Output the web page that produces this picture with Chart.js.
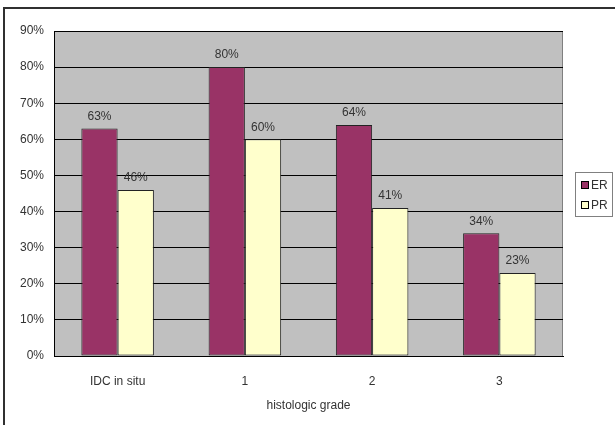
<!DOCTYPE html>
<html>
<head>
<meta charset="utf-8">
<script src="https://cdn.jsdelivr.net/npm/chart.js@4/dist/chart.umd.min.js"></script>
<style>
  html, body { margin: 0; padding: 0; background: #fff; }
  #wrap { width: 615px; height: 425px; position: relative; }
</style>
</head>
<body>
<div id="wrap"><canvas id="chart" width="615" height="425"></canvas></div>
<script>
// Data
const categories = ["IDC in situ", "1", "2", "3"];
const erValues = [63, 80, 64, 34];
const prValues = [46, 60, 41, 23];
const seriesNames = ["ER", "PR"];
const seriesColors = ["#993366", "#FFFFCC"];
const xTitle = "histologic grade";

const FONT = "'Liberation Sans', Arial, sans-serif";
const TEXT = "#333333";

// plot background + outer frame
const backdrop = {
    id: "backdrop",
    beforeDraw(chart) {
        const { ctx, chartArea: a } = chart;
        ctx.save();
        ctx.fillStyle = "#C0C0C0";
        ctx.fillRect(a.left, a.top, a.right - a.left, a.bottom - a.top);
        ctx.strokeStyle = "#808080";
        ctx.lineWidth = 1;
        ctx.strokeRect(a.left + 0.5, a.top + 0.5, a.right - a.left - 1, a.bottom - a.top);
        // outer frame (only left/top visible in the picture)
        ctx.strokeStyle = "#303030";
        ctx.lineWidth = 2;
        ctx.beginPath();
        ctx.moveTo(4, 425);
        ctx.lineTo(4, 8);
        ctx.lineTo(615, 8);
        ctx.stroke();
        ctx.restore();
    }
};

// value labels above bars
const valueLabels = {
    id: "valueLabels",
    afterDatasetsDraw(chart) {
        const { ctx } = chart;
        ctx.save();
        ctx.font = "12px " + FONT;
        ctx.fillStyle = TEXT;
        ctx.textAlign = "center";
        ctx.textBaseline = "middle";
        chart.data.datasets.forEach((ds, i) => {
            chart.getDatasetMeta(i).data.forEach((bar, j) => {
                ctx.fillText(ds.data[j] + "%", bar.x, bar.y - 12);
            });
        });
        ctx.restore();
    }
};

// legend box at the right
const sideLegend = {
    id: "sideLegend",
    afterDraw(chart) {
        const { ctx } = chart;
        const x = 575, y = 172, w = 37, h = 44;
        ctx.save();
        ctx.fillStyle = "#fff";
        ctx.fillRect(x, y, w, h);
        ctx.strokeStyle = "#808080";
        ctx.lineWidth = 1;
        ctx.strokeRect(x + 0.5, y + 0.5, w, h);
        ctx.font = "12px " + FONT;
        ctx.textBaseline = "middle";
        chart.data.datasets.forEach((ds, i) => {
            const cy = 185 + i * 20;
            ctx.fillStyle = ds.backgroundColor;
            ctx.fillRect(581, cy - 4, 8, 8);
            ctx.strokeStyle = "#000";
            ctx.strokeRect(581.5, cy - 3.5, 7, 7);
            ctx.fillStyle = TEXT;
            ctx.fillText(ds.label, 591, cy + 1);
        });
        ctx.restore();
    }
};

new Chart(document.getElementById("chart"), {
    type: "bar",
    data: {
        labels: categories,
        datasets: [
            { label: seriesNames[0], data: erValues, backgroundColor: seriesColors[0] },
            { label: seriesNames[1], data: prValues, backgroundColor: seriesColors[1] }
        ].map(d => Object.assign(d, {
            borderColor: "#222",
            borderWidth: 1,
            borderSkipped: false,
            categoryPercentage: 0.57,
            barPercentage: 1.0
        }))
    },
    options: {
        responsive: false,
        animation: false,
        layout: { padding: { left: 0, top: 31, right: 52, bottom: 0 } },
        plugins: {
            legend: { display: false },
            tooltip: { enabled: false }
        },
        scales: {
            x: {
                grid: { display: false },
                border: { color: "#000", width: 1 },
                ticks: { color: TEXT, font: { family: FONT, size: 12 }, padding: 10 },
                title: {
                    display: true,
                    text: xTitle,
                    color: TEXT,
                    font: { family: FONT, size: 12 },
                    padding: { top: 4, bottom: 12 }
                },
                afterFit(scale) { scale.height = 69; }
            },
            y: {
                min: 0,
                max: 90,
                ticks: {
                    stepSize: 10,
                    color: TEXT,
                    font: { family: FONT, size: 12 },
                    padding: 10,
                    callback: v => v + "%"
                },
                grid: { color: "#000", lineWidth: 1, drawTicks: false },
                border: { color: "#000", width: 1 },
                afterFit(scale) { scale.width = 54; }
            }
        }
    },
    plugins: [backdrop, valueLabels, sideLegend]
});
</script>
</body>
</html>
